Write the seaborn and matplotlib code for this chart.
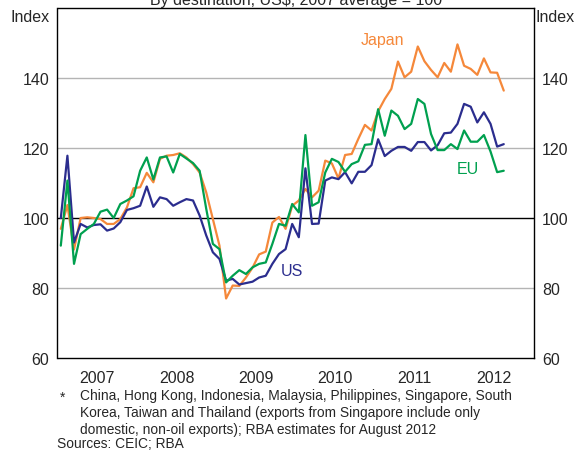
import numpy as np
import pandas as pd
import matplotlib
matplotlib.use("Agg")
import matplotlib.pyplot as plt
import seaborn as sns

# Monthly index values, Jan 2007 - Aug 2012
japan = [96.9, 103.7, 91.0, 100.0, 100.2, 100.0, 99.7, 98.3, 98.3, 99.7, 103.0, 108.5,
         108.8, 112.9, 110.2, 116.9, 117.8, 118.0, 118.5, 117.3, 115.4, 113.0, 107.3, 99.7,
         92.1, 77.0, 80.7, 80.6, 83.0, 85.8, 89.6, 90.4, 98.7, 100.3, 96.9, 103.5,
         105.0, 108.3, 105.9, 107.8, 116.4, 115.6, 111.3, 118.0, 118.3, 122.6, 126.6, 125.0,
         130.5, 134.0, 136.9, 144.7, 140.2, 141.8, 149.0, 144.8, 142.3, 140.2, 144.3, 141.8,
         149.6, 143.5, 142.6, 140.9, 145.6, 141.6, 141.5, 136.4]
eu = [92.1, 110.7, 86.9, 95.4, 96.9, 98.3, 101.8, 102.4, 100.0, 104.0, 105.0, 106.2,
      113.5, 117.3, 111.0, 117.3, 117.6, 113.0, 118.3, 117.0, 115.7, 113.5, 102.6, 92.6,
      91.1, 81.6, 83.5, 85.1, 84.0, 85.9, 86.9, 87.3, 92.6, 98.3, 97.8, 104.0,
      101.6, 123.7, 103.5, 104.5, 113.0, 116.9, 116.0, 113.2, 115.4, 116.2, 120.9, 121.1,
      131.1, 123.5, 130.7, 129.2, 125.4, 126.9, 134.0, 132.6, 124.0, 119.4, 119.4, 121.1,
      119.7, 125.0, 121.8, 121.8, 123.7, 119.0, 113.1, 113.5]
us = [100.0, 117.8, 93.0, 98.3, 97.3, 98.0, 98.2, 96.4, 97.0, 98.8, 102.3, 102.8,
      103.5, 109.0, 103.2, 105.9, 105.4, 103.5, 104.5, 105.4, 105.0, 100.7, 95.0, 90.2,
      88.3, 82.1, 82.6, 81.0, 81.4, 81.8, 83.0, 83.5, 86.9, 89.7, 91.1, 98.3,
      94.5, 114.2, 98.3, 98.4, 110.7, 111.6, 111.1, 113.1, 109.9, 113.2, 113.2, 115.1,
      122.5, 117.7, 119.2, 120.3, 120.3, 119.2, 121.7, 121.7, 119.3, 120.8, 124.2, 124.4,
      126.9, 132.6, 131.8, 127.3, 130.2, 126.9, 120.4, 121.1]

years = [2007, 2008, 2009, 2010, 2011, 2012]
yticks = [60, 80, 100, 120, 140]

t = 2007 + (np.arange(len(japan)) + 0.5) / 12
df = pd.DataFrame({"t": t, "Japan": japan, "EU": eu, "US": us})

colors = {"Japan": "#F5883A", "EU": "#00A04F", "US": "#2B2D8E"}

sns.set_style("white")
plt.rcParams["font.family"] = ["Liberation Sans", "DejaVu Sans"]

fig = plt.figure(figsize=(5.81, 4.52), dpi=100)
ax = fig.add_axes([57.5 / 581, 1 - 359 / 452, 476 / 581, 350 / 452])

for y in [80, 120, 140]:
    ax.axhline(y, color="#b4b4b4", lw=1.0, zorder=1)
ax.axhline(100, color="black", lw=1.0, zorder=1)

for name in ["Japan", "US", "EU"]:
    sns.lineplot(data=df, x="t", y=name, color=colors[name], lw=1.6, ax=ax, zorder=3)

ax.set_xlim(2007, 2013)
ax.set_ylim(60, 160)
ax.set_xlabel("")
ax.set_ylabel("")

ax.set_xticks(years[1:])
ax.set_xticklabels([])
ax.set_xticks([y + 0.5 for y in years], minor=True)
ax.set_xticklabels([str(y) for y in years], minor=True)
ax.tick_params(axis="x", which="major", direction="in", length=5, width=1, color="black")
ax.tick_params(axis="x", which="minor", length=0, labelsize=11.5, pad=9)

ax.set_yticks(yticks)
ax.set_yticklabels([str(v) for v in yticks])
ax.tick_params(axis="y", length=0, labelsize=11.5, labelright=True, pad=6)

for s in ax.spines.values():
    s.set_color("black")
    s.set_linewidth(1.0)

fig.text(30 / 581, 1 - 17 / 452, "Index", fontsize=11.5, ha="center", va="center")
fig.text(555 / 581, 1 - 17 / 452, "Index", fontsize=11.5, ha="center", va="center")
fig.text(296 / 581, 1 - 1 / 452, "By destination, US$, 2007 average = 100", fontsize=11.5,
         ha="center", va="center")

ax.text(2011.09, 151, "Japan", color=colors["Japan"], fontsize=11.5, ha="center", va="center")
ax.text(2012.17, 114, "EU", color=colors["EU"], fontsize=11.5, ha="center", va="center")
ax.text(2009.95, 84.9, "US", color=colors["US"], fontsize=11.5, ha="center", va="center")

fig.text(60 / 581, 1 - 398 / 452, "*", fontsize=10, ha="left", va="center")
note = ("China, Hong Kong, Indonesia, Malaysia, Philippines, Singapore, South\n"
        "Korea, Taiwan and Thailand (exports from Singapore include only\n"
        "domestic, non-oil exports); RBA estimates for August 2012")
fig.text(80 / 581, 1 - 389 / 452, note, fontsize=9.9, ha="left", va="top", linespacing=1.28)
fig.text(57 / 581, 1 - 444 / 452, "Sources: CEIC; RBA", fontsize=9.9, ha="left", va="center")

fig.savefig("out.png", dpi=100)
